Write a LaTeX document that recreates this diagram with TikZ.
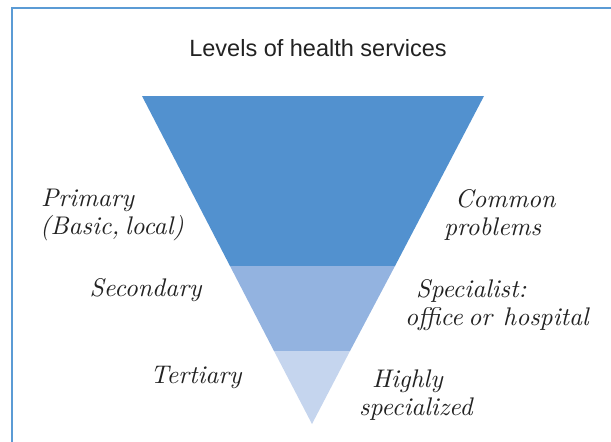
\documentclass[tikz,border=0pt]{standalone}
\usepackage{fontspec}
\newfontfamily\titlefont{Liberation Sans}
\newfontfamily\lblfont{lmroman10-italic.otf}
\newcommand\lblsetup{\lblfont\fontsize{25.5}{28.5}\selectfont\spaceskip=5.6pt plus 2pt minus 1pt\relax}
\definecolor{frameblue}{HTML}{5B9BD5}
\definecolor{lvlone}{HTML}{5291CF}
\definecolor{lvltwo}{HTML}{93B3E0}
\definecolor{lvlthree}{HTML}{C5D5EE}
\definecolor{txt}{HTML}{222222}
\begin{document}
\begin{tikzpicture}[x=1pt,y=-1pt,
  lbl/.style={font=\lblsetup, text=txt, inner sep=0pt},
  ttl/.style={font=\titlefont\fontsize{23.5}{28}\selectfont, text=txt, inner sep=0pt}]
\useasboundingbox (0,0) rectangle (611,442);
\fill[white] (0,0) rectangle (611,442);
% frame
\draw[frameblue, line width=2.2pt] (12,460) -- (12,8) -- (640,8);
% title
\node[ttl] (title) at (318,48) {Levels of health services};
% pyramid levels
\coordinate (tl) at (142,96);
\coordinate (tr) at (484,96);
\coordinate (ap) at (312,424);
\fill[lvlone] (tl) -- (tr) -- (395,266) -- (230,266) -- cycle;
\fill[lvltwo] (230,266) -- (395,266) -- (350,351) -- (274,351) -- cycle;
\fill[lvlthree] (274,351) -- (350,351) -- (ap) -- cycle;
% labels left
\node[lbl, anchor=west, align=left] (prim) at (40,215) {\hspace*{1pt}Primary\\(Basic, local)};
\node[lbl, anchor=center] (sec) at (145.5,290) {Secondary};
\node[lbl, anchor=center] (ter) at (196,377) {Tertiary};
% labels right
\node[lbl, align=left, anchor=west] (comm) at (444,215) {\hspace*{11pt}Common\\problems};
\node[lbl, align=left, anchor=west] (spec) at (405,305) {\hspace*{11pt}Specialist:\\office or\hspace{11pt}hospital};
\node[lbl, align=left, anchor=west] (high) at (359,395) {\hspace*{13pt}Highly\\specialized};
\end{tikzpicture}
\end{document}
